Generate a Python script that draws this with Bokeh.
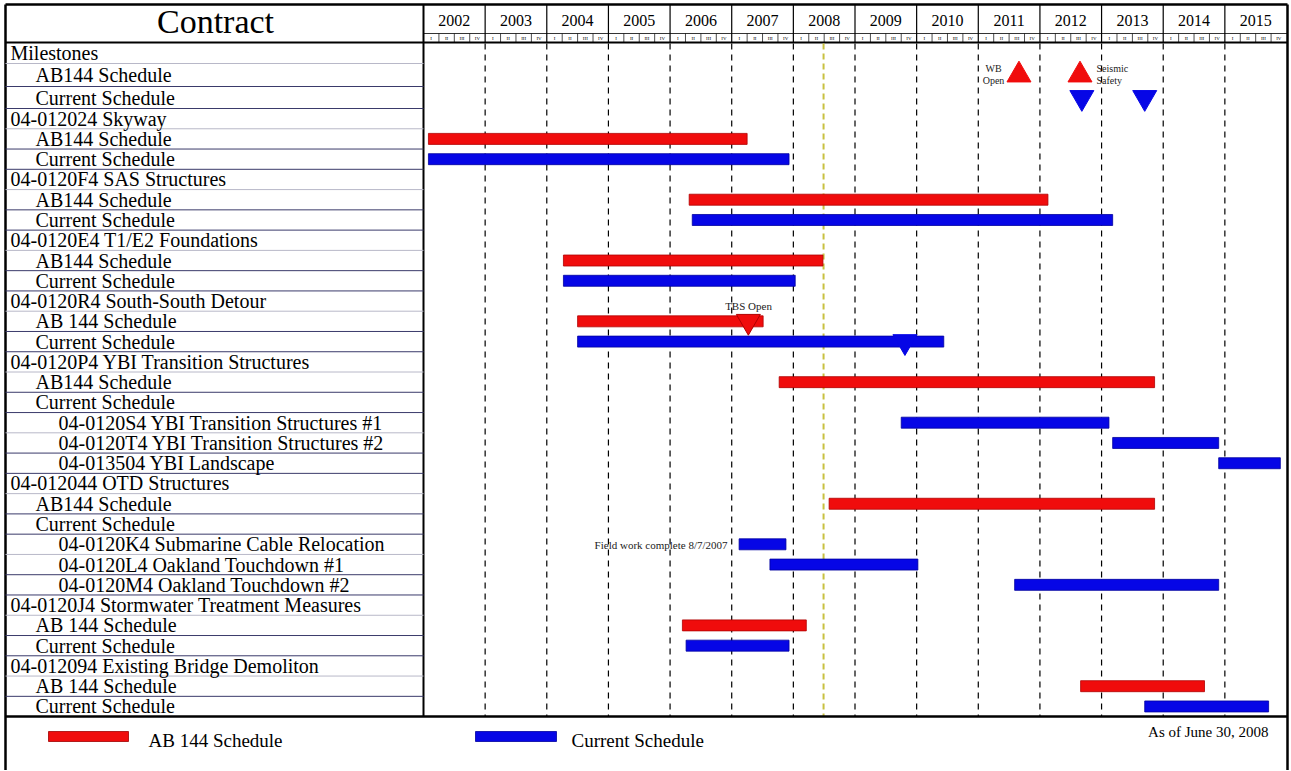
from bokeh.plotting import figure
from bokeh.models import Range1d
from bokeh.core.properties import value
from bokeh.embed import file_html
from bokeh.resources import INLINE

# ---------------- data ----------------
years = list(range(2002, 2016))
quarters = ["I", "II", "III", "IV"]
row_labels = [
    "Milestones", "AB144 Schedule", "Current Schedule",
    "04-012024 Skyway", "AB144 Schedule", "Current Schedule",
    "04-0120F4 SAS Structures", "AB144 Schedule", "Current Schedule",
    "04-0120E4 T1/E2 Foundations", "AB144 Schedule", "Current Schedule",
    "04-0120R4 South-South Detour", "AB 144 Schedule", "Current Schedule",
    "04-0120P4 YBI Transition Structures", "AB144 Schedule", "Current Schedule",
    "04-0120S4 YBI Transition Structures #1", "04-0120T4 YBI Transition Structures #2",
    "04-013504 YBI Landscape",
    "04-012044 OTD Structures", "AB144 Schedule", "Current Schedule",
    "04-0120K4 Submarine Cable Relocation", "04-0120L4 Oakland Touchdown #1",
    "04-0120M4 Oakland Touchdown #2",
    "04-0120J4 Stormwater Treatment Measures", "AB 144 Schedule", "Current Schedule",
    "04-012094 Existing Bridge Demoliton", "AB 144 Schedule", "Current Schedule",
]
row_levels = [0, 1, 1, 0, 1, 1, 0, 1, 1, 0, 1, 1, 0, 1, 1, 0, 1, 1, 2, 2, 2,
              0, 1, 1, 2, 2, 2, 0, 1, 1, 0, 1, 1]

ab144_rows = [4, 7, 10, 13, 16, 22, 28, 31]
ab144_start = [2002.08, 2006.31, 2004.27, 2004.50, 2007.77, 2008.58, 2006.20, 2012.66]
ab144_end = [2007.25, 2012.13, 2008.48, 2007.51, 2013.86, 2013.86, 2008.21, 2014.67]

current_rows = [5, 8, 11, 14, 18, 19, 20, 24, 25, 26, 29, 32]
current_start = [2002.08, 2006.36, 2004.27, 2004.50, 2009.75, 2013.18, 2014.90,
                 2007.12, 2007.62, 2011.59, 2006.26, 2013.70]
current_end = [2007.93, 2013.18, 2008.03, 2010.44, 2013.12, 2014.90, 2015.90,
               2007.88, 2010.02, 2014.90, 2007.93, 2015.71]

ms_up_rows = [1, 1]
ms_up_x = [2011.66, 2012.65]
ms_red_down_rows = [13]
ms_red_down_x = [2007.27]
ms_blue_down_rows = [2, 2, 14]
ms_blue_down_x = [2012.68, 2013.70, 2009.81]

status_date = 2008.49
status_text = "As of June 30, 2008"

RED = "#f00c0c"
BLUE = "#0606e6"
FONT = value("Liberation Serif")

# ---------------- layout helpers (page pixel -> data) ----------------
W, H = 1290, 770
SC = (1286 - 423) / 14.0        # px per year
X0 = 2002 - 423 / SC
X1 = X0 + W / SC
LEFT, TOP, RIGHT = 5, 4, 1287


def X(px):
    return X0 + px / SC


def Y(py):
    return py


row_heights = [21, 23, 22] + [20.27] * 30
row_tops = []
t = 42
for h in row_heights:
    row_tops.append(t)
    t += h
rows_bottom = t
row_center = [Y(row_tops[i] + row_heights[i] / 2) for i in range(len(row_heights))]

p = figure(width=W, height=H, x_range=Range1d(X0, X1), y_range=Range1d(H, 0),
           output_backend="svg", toolbar_location=None, min_border=0)
p.axis.visible = False
p.grid.visible = False
p.outline_line_color = None
p.background_fill_color = "white"
p.border_fill_color = "white"

# outer frame
p.segment(x0=[X(LEFT), X(LEFT), X(RIGHT)], y0=[Y(TOP), Y(TOP), Y(TOP)],
          x1=[X(LEFT), X(RIGHT), X(RIGHT)], y1=[Y(H + 5), Y(TOP), Y(H + 5)],
          line_color="black", line_width=2.5)

# ---------------- header ----------------
p.text(x=[X(215)], y=[Y(21)], text=["Contract"], text_font=FONT, text_font_size="34px",
       text_align="center", text_baseline="middle", text_color="black")
p.text(x=[yr + 0.5 for yr in years], y=[Y(20)] * len(years), text=[str(yr) for yr in years],
       text_font=FONT, text_font_size="16px", text_align="center", text_baseline="middle",
       text_color="black")
# year separators in header
p.segment(x0=years[1:], y0=[Y(TOP)] * 13, x1=years[1:], y1=[Y(42)] * 13,
          line_color="black", line_width=1.2)
# quarter row
qx = [yr + q / 4 for yr in years for q in range(1, 4)]
p.segment(x0=qx, y0=[Y(33)] * len(qx), x1=qx, y1=[Y(42)] * len(qx), line_color="black", line_width=0.7)
p.segment(x0=[2002], y0=[Y(33)], x1=[X(RIGHT)], y1=[Y(33)], line_color="black", line_width=0.8)
qc = [yr + (q + 0.5) / 4 for yr in years for q in range(4)]
ql = [quarters[q] for yr in years for q in range(4)]
p.text(x=qc, y=[Y(37.8)] * len(qc), text=ql, text_font=FONT, text_font_size="5px",
       text_align="center", text_baseline="middle", text_color="black")
# header bottom line
p.segment(x0=[X(LEFT)], y0=[Y(42)], x1=[X(RIGHT)], y1=[Y(42)], line_color="black", line_width=2)
# column divider
p.segment(x0=[2002], y0=[Y(TOP)], x1=[2002], y1=[Y(rows_bottom)], line_color="black", line_width=2)

# ---------------- label rows ----------------
sep_y = [Y(row_tops[i]) for i in range(1, len(row_tops))]
sep_col = ["#b8b8c8" if i % 3 == 0 else "#3a3a6a" for i in range(len(sep_y))]
p.segment(x0=[X(LEFT)] * len(sep_y), y0=sep_y, x1=[2002] * len(sep_y), y1=sep_y,
          line_color=sep_col, line_width=1)
indent_px = [10, 35, 58]
p.text(x=[X(indent_px[lv]) for lv in row_levels], y=row_center, text=row_labels,
       text_font=FONT, text_font_size="20px", text_align="left", text_baseline="middle",
       text_color="black")

# ---------------- grid lines ----------------
inner = years[1:]
p.segment(x0=inner, y0=[Y(43)] * len(inner), x1=inner, y1=[Y(rows_bottom)] * len(inner),
          line_color="black", line_width=1.2, line_dash="6 5")
p.segment(x0=[status_date], y0=[Y(43)], x1=[status_date], y1=[Y(rows_bottom)],
          line_color="#c8c040", line_width=2, line_dash="6 4")

# ---------------- bars ----------------
p.hbar(y=[row_center[r] for r in ab144_rows], left=ab144_start, right=ab144_end, height=11,
       fill_color=RED, line_color="#b00000", line_width=0.8)
p.hbar(y=[row_center[r] for r in current_rows], left=current_start, right=current_end, height=11,
       fill_color=BLUE, line_color="#0000a0", line_width=0.8)

# ---------------- milestones ----------------
p.scatter(x=ms_up_x, y=[row_center[r] for r in ms_up_rows], marker="triangle", size=24,
          fill_color=RED, line_color=RED)
p.scatter(x=ms_red_down_x, y=[row_center[r] for r in ms_red_down_rows], marker="inverted_triangle",
          size=24, fill_color=RED, line_color="#b00000")
p.scatter(x=ms_blue_down_x, y=[row_center[r] for r in ms_blue_down_rows], marker="inverted_triangle",
          size=24, fill_color=BLUE, line_color=BLUE)

# annotations
p.text(x=[X(993), X(993)], y=[Y(68), Y(80)], text=["WB", "Open"], text_font=FONT,
       text_font_size="10px", text_align="center", text_baseline="middle", text_color="#222222")
p.text(x=[X(1096), X(1096)], y=[Y(68), Y(80)], text=["Seismic", "Safety"], text_font=FONT,
       text_font_size="10px", text_align="left", text_baseline="middle", text_color="#222222")
p.text(x=[X(748)], y=[Y(305)], text=["TBS Open"], text_font=FONT,
       text_font_size="11px", text_align="center", text_baseline="middle", text_color="#222222")
p.text(x=[X(727)], y=[Y(544)], text=["Field work complete 8/7/2007"], text_font=FONT,
       text_font_size="11px", text_align="right", text_baseline="middle", text_color="#222222")

# ---------------- legend box ----------------
p.segment(x0=[X(LEFT)], y0=[Y(rows_bottom)], x1=[X(RIGHT)], y1=[Y(rows_bottom)],
          line_color="black", line_width=2.5)
p.quad(left=[X(48), X(475)], right=[X(128), X(556)], top=[Y(731)] * 2, bottom=[Y(741)] * 2,
       fill_color=[RED, BLUE], line_color=["#a00000", "#0000a0"], line_width=0.8)
p.text(x=[X(148), X(571)], y=[Y(740), Y(740)], text=["AB 144 Schedule", "Current Schedule"],
       text_font=FONT, text_font_size="19px", text_align="left", text_baseline="middle",
       text_color="black")
p.text(x=[X(1268)], y=[Y(731)], text=[status_text], text_font=FONT, text_font_size="15px",
       text_align="right", text_baseline="middle", text_color="black")

open("out.html", "w").write(file_html(p, INLINE))
